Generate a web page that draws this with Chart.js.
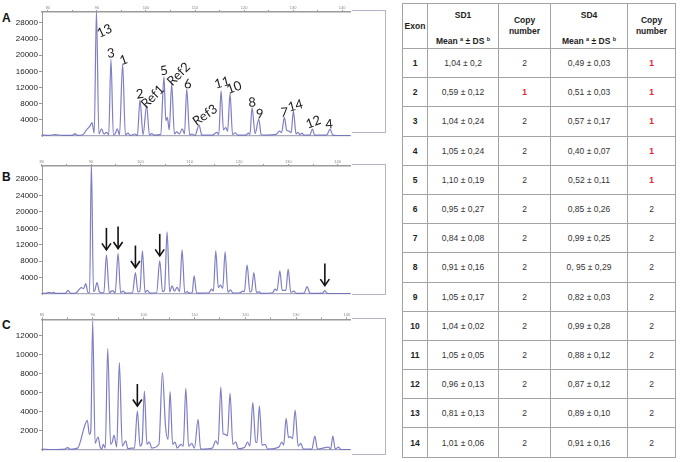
<!DOCTYPE html>
<html>
<head>
<meta charset="utf-8">
<script src="https://cdn.jsdelivr.net/npm/chart.js@4"></script>
<style>
  body { margin: 0; background: #fff; }
  #fig { position: relative; width: 686px; height: 462px; overflow: hidden; font-family: "Liberation Sans", Arial, sans-serif; }
  #fig canvas { position: absolute; left: 0; }
  .tag { position: absolute; left: 2px; font-weight: bold; font-size: 12px; color: #111; }
  .frame { position: absolute; border: 1px solid #b4b4c8; border-left: none; left: 352px; width: 33px; }
  table { position: absolute; left: 402px; top: 3px; border-collapse: collapse; table-layout: fixed; font-size: 8.5px; color: #333; }
  th, td { border: 1px solid #a4a4a4; text-align: center; padding: 0; }
  th { font-weight: bold; color: #222; }
  td.ex { font-weight: bold; color: #222; }
  .red { color: #e3261f; font-weight: bold; }
  sup { font-size: 5.5px; vertical-align: 3px; }
</style>
</head>
<body>
<div id="fig">
  <div class="tag" style="top:11px">A</div>
  <div class="tag" style="top:170px">B</div>
  <div class="tag" style="top:318px">C</div>
  <div class="frame" style="top:10px;height:121px"></div>
  <div class="frame" style="top:164px;height:129px"></div>
  <div class="frame" style="top:318px;height:135px"></div>
  <canvas id="cA"></canvas>
  <canvas id="cB"></canvas>
  <canvas id="cC"></canvas>
  <table id="tab"></table>
</div>
<script>
// ── Dados ─────────────────────────────────────────────────────────────────────
const xTickLabels = [80, 90, 100, 110, 120, 130, 140];
const xTickMarks  = [80, 85, 90, 95, 100, 105, 110, 115, 120, 125, 130, 135, 140];
const yTicksAB    = [4000, 8000, 12000, 16000, 20000, 24000, 28000];
const yTicksC     = [2000, 4000, 6000, 8000, 10000, 12000];

// Electroferogramas: [tamanho, intensidade]
const traceA = [
  [78.8,300],[80.2,150],[81.5,350],[83,150],[85.0,150],[85.5,600],[86.0,150],[87.1,300],[88.0,1700],[88.6,2500],[89.0,3300],[89.45,700],
  [89.9,31000],[90.4,500],[90.96,1800],[91.4,500],[91.98,900],[92.4,300],[92.86,19000],[93.35,300],[93.7,500],[94.14,1800],[94.6,300],
  [95.24,17800],[95.8,300],[96.33,700],[96.8,150],[97.76,500],[98.25,150],[98.78,8900],[99.4,300],[100.14,7500],[100.7,300],[101.16,600],
  [101.7,200],[103.0,400],[103.67,14650],[104.05,3800],[104.35,4600],[104.75,1500],[105.24,12850],[105.8,500],[106.27,1000],[106.8,500],
  [107.41,1800],[107.85,500],[108.31,11600],[108.9,300],[109.4,500],[110.0,150],[110.82,2700],[111.4,200],[113.5,200],[114.43,900],
  [114.85,400],[115.31,11200],[115.8,1500],[116.27,2100],[116.65,1200],[117.14,10500],[117.65,400],[118.2,800],[118.7,200],[120.3,200],
  [120.9,700],[121.2,400],[121.63,7050],[122.25,600],[123.0,4200],[123.5,300],[124.5,200],[126.5,400],[127.2,1200],[127.65,900],
  [128.22,4600],[128.7,1400],[129.2,1200],[129.6,800],[130.06,6250],[130.6,500],[131.0,900],[131.4,300],[131.8,700],[132.2,200],
  [133.4,200],[133.94,1700],[134.4,200],[136.8,200],[137.55,1700],[138.1,200],[139,100],[141.6,100]
];
const traceB = [
  [80.06,200],[80.8,150],[81.62,400],[82.0,200],[82.3,400],[82.8,150],[84.8,150],[85.34,900],[85.9,150],[87.0,300],[87.36,800],
  [88.05,1560],[88.5,1300],[88.92,2540],[89.39,300],[89.7,300],[90.07,32000],[90.5,600],[90.8,1000],[91.22,2780],[91.7,500],[92.1,300],
  [92.6,300],[93.12,9540],[93.7,300],[94.33,800],[94.9,300],[95.48,9860],[96.0,300],[96.49,700],[97.0,200],[98.4,300],[99.0,5230],
  [99.5,500],[99.9,700],[100.42,10500],[100.95,400],[101.44,900],[101.9,200],[103.3,300],[103.93,8070],[104.5,600],[104.9,900],
  [105.42,15150],[105.95,500],[106.43,1970],[106.9,700],[107.45,1600],[107.95,600],[108.46,10750],[109.0,300],[109.47,600],[109.9,200],
  [110.5,300],[110.9,4400],[111.4,200],[113.9,300],[114.42,1200],[114.8,700],[115.29,10500],[115.8,1600],[116.25,2140],[116.7,1400],
  [117.18,10300],[117.75,400],[118.27,1000],[118.8,200],[120.2,300],[120.71,700],[121.1,600],[121.64,7100],[122.2,500],[122.55,800],
  [123.0,5230],[123.55,400],[124.08,500],[124.6,150],[126.8,300],[127.33,1200],[127.7,800],[128.28,5640],[128.75,900],[129.09,900],
  [129.5,900],[129.96,6040],[130.5,400],[131.12,700],[131.6,150],[133.2,200],[133.81,1800],[134.4,150],[136.9,200],[137.4,830],
  [137.9,150],[139,100],[142.5,100]
];
const traceC = [
  [80,100],[82,50],[84.5,100],[85.05,250],[85.6,80],[87.0,200],[87.5,800],[88.2,2200],[88.92,3120],[89.32,1650],[89.6,2000],
  [89.97,13600],[90.45,700],[91.02,1370],[91.45,300],[91.75,100],[92.07,600],[92.45,200],[92.93,10670],[93.5,600],[93.8,800],
  [94.17,1550],[94.7,300],[95.22,9200],[95.8,400],[96.47,950],[96.9,150],[97.65,200],[98.2,200],[98.76,4100],[99.3,400],[99.7,800],
  [100.14,6200],[100.65,600],[101.12,840],[101.6,200],[103.0,600],[103.69,8140],[104.3,2500],[104.8,1120],[105.2,6140],[105.7,600],
  [106.18,840],[106.6,200],[107.36,600],[107.8,400],[108.29,6490],[108.85,400],[109.47,700],[110.0,200],[110.71,3230],[111.2,100],
  [113.5,200],[114.19,950],[114.65,600],[115.18,6630],[115.65,1700],[116.02,1650],[116.5,1500],[117.0,5960],[117.55,600],[118.13,840],
  [118.6,150],[119.9,300],[120.41,840],[120.9,400],[121.47,4980],[122.05,800],[122.3,800],[122.77,4630],[123.3,500],[123.9,600],
  [124.4,100],[126.6,300],[127.18,840],[127.55,500],[128.03,3330],[128.5,1300],[128.82,1400],[129.3,1200],[129.8,4210],[130.4,400],
  [130.92,700],[131.4,100],[133.1,100],[133.68,1470],[134.2,100],[136.36,300],[136.8,100],[137.22,1470],[137.7,100],[138.33,300],
  [138.8,50],[140.6,50]
];

// Picos identificados no painel A (nome → posição do pico)
const peakNamesA = ['13','3','1','2','Ref1','5','Ref2','6','Ref3','11','10','8','9','7','14','12','4'];
const peakPosA   = [89.9, 92.86, 95.24, 98.78, 100.14, 103.67, 105.24, 108.31, 110.82, 115.31, 117.14, 121.63, 123.0, 128.22, 130.06, 133.94, 137.55];

// Setas (picos com deleção)
const arrowsB = [93.12, 95.48, 99.0, 103.93, 137.4];
const arrowsC = [98.76];

// Tabela
const exons    = [1,2,3,4,5,6,7,8,9,10,11,12,13,14];
const sd1Mean  = ['1,04','0,59','1,04','1,05','1,10','0,95','0,84','0,91','1,05','1,04','1,05','0,96','0,81','1,01'];
const sd1Ds    = ['0,2','0,12','0,24','0,24','0,19','0,27','0,08','0,16','0,17','0,02','0,05','0,13','0,13','0,06'];
const sd1Copy  = [2,1,2,2,2,2,2,2,2,2,2,2,2,2];
const sd4Mean  = ['0,49','0,51','0,57','0,40','0,52','0,85','0,99','0, 95','0,82','0,99','0,88','0,87','0,89','0,91'];
const sd4Ds    = ['0,03','0,03','0,17','0,07','0,11','0,26','0,25','0,29','0,03','0,28','0,12','0,12','0,10','0,16'];
const sd4Copy  = [1,1,1,1,1,2,2,2,2,2,2,2,2,2];

// ── Estilo dos rótulos de pico: [dx, dy, rotação] ────────────────────────────
const LABEL_STYLE = [
  [8,20,-25],[0,-6,-8],[1,-4,-20],[0,-6,-8],[6,-9,-45],[0,-6,-10],[7,-10,-45],[1,-5,-8],[6,-10,-35],
  [1,-8,-15],[4,-6,-20],[0,-5,-5],[1,-5,-5],[0,-5,-5],[2,-5,-15],[1,-7,-20],[-1,-5,-5]
];

// ── Plugin: setas e rótulos ──────────────────────────────────────────────────
const peakMarks = {
  id: 'peakMarks',
  afterDatasetsDraw(chart, args, opts) {
    const { ctx, scales: { x, y } } = chart;
    const data = chart.data.datasets[0].data;
    const valAt = u => (data.find(p => p.x === u) || { y: 0 }).y;
    ctx.save();
    ctx.strokeStyle = '#111';
    ctx.lineWidth = 1.6;
    (opts.arrows || []).forEach(u => {
      const px = x.getPixelForValue(u);
      const tip = y.getPixelForValue(valAt(u)) - 5;
      ctx.beginPath(); ctx.moveTo(px, tip - 22); ctx.lineTo(px, tip); ctx.stroke();
      ctx.beginPath(); ctx.moveTo(px - 4.5, tip - 6.5); ctx.lineTo(px, tip); ctx.lineTo(px + 4.5, tip - 6.5); ctx.stroke();
    });
    (opts.names || []).forEach((txt, i) => {
      const u = opts.pos[i];
      const [dx, dy, rot] = LABEL_STYLE[i];
      const px = x.getPixelForValue(u) + dx;
      const py = Math.max(y.getPixelForValue(valAt(u)), chart.chartArea.top - 1) + dy;
      ctx.save();
      ctx.translate(px, py);
      ctx.rotate(rot * Math.PI / 180);
      ctx.font = '13px Lato, "Open Sans", sans-serif';
      ctx.fillStyle = '#1a1a1a';
      ctx.textAlign = 'center';
      ctx.textBaseline = 'middle';
      ctx.fillText(txt, 0, 0);
      ctx.restore();
    });
    ctx.restore();
  }
};

// ── Painéis ───────────────────────────────────────────────────────────────────
function painel(id, trace, o) {
  const cv = document.getElementById(id);
  cv.style.top = o.top + 'px';
  cv.width = 356; cv.height = o.h;
  cv.style.width = '356px'; cv.style.height = o.h + 'px';
  const xmin = trace[0][0], xmax = trace[trace.length - 1][0];
  new Chart(cv, {
    type: 'line',
    data: { datasets: [{
      data: trace.map(([x, y]) => ({ x, y })),
      borderColor: 'rgba(112,112,188,0.9)',
      borderWidth: 1.2,
      pointRadius: 0,
      cubicInterpolationMode: 'monotone',
    }] },
    options: {
      responsive: false,
      animation: false,
      events: [],
      layout: { padding: { top: 0, left: 0, right: 6, bottom: o.padB } },
      plugins: { legend: { display: false }, tooltip: { enabled: false },
                 peakMarks: { arrows: o.arrows, names: o.names, pos: o.pos } },
      scales: {
        x: {
          type: 'linear', position: 'top', min: xmin, max: xmax,
          afterFit: s => { s.height = o.axisH; },
          afterBuildTicks: s => { s.ticks = xTickMarks.map(v => ({ value: v })); },
          ticks: { maxRotation: 0, autoSkip: false, padding: 0, color: '#888',
                   font: { size: 4 }, callback: v => xTickLabels.includes(v) ? String(v) : '' },
          grid: { drawOnChartArea: false, drawTicks: true, tickLength: 2, color: '#999' },
          border: { color: '#9a9a9a', width: 1.5 },
        },
        x2: {
          type: 'linear', position: 'bottom', min: xmin, max: xmax,
          afterFit: s => { s.height = 0; },
          ticks: { display: false },
          grid: { display: false },
          border: { color: '#a8a8c0', width: 1.2 },
        },
        y: {
          min: 0, max: o.ymax,
          afterFit: s => { s.width = 42; },
          afterBuildTicks: s => { s.ticks = o.yTicks.map(v => ({ value: v })); },
          ticks: { autoSkip: false, padding: 1, color: '#222', font: { family: '"Liberation Sans", Arial', size: 8 },
                   callback: v => String(v) },
          grid: { drawOnChartArea: false, drawTicks: true, tickLength: 3, color: '#999' },
          border: { color: '#999', width: 1 },
        },
      },
    },
    plugins: [peakMarks],
  });
}

painel('cA', traceA, { top: 0,   h: 145, axisH: 12,   padB: 9,  ymax: 30700, yTicks: yTicksAB, names: peakNamesA, pos: peakPosA });
painel('cB', traceB, { top: 150, h: 150, axisH: 16,   padB: 6,  ymax: 31200, yTicks: yTicksAB, arrows: arrowsB });
painel('cC', traceC, { top: 305, h: 157, axisH: 14.3, padB: 12, ymax: 13750, yTicks: yTicksC,  arrows: arrowsC });

// ── Tabela ────────────────────────────────────────────────────────────────────
const tab = document.getElementById('tab');
const cor = n => n === 1 ? `<span class="red">${n}</span>` : n;
let html = '<colgroup><col style="width:25px"><col style="width:71px"><col style="width:52px"><col style="width:77px"><col style="width:48px"></colgroup>';
html += `<tr style="height:45px">
  <th>Exon</th>
  <th style="vertical-align:top"><div style="padding-top:6px">SD1</div><div style="margin-top:16px">Mean <sup>a</sup> ± DS <sup>b</sup></div></th>
  <th style="line-height:11px">Copy<br>number</th>
  <th style="vertical-align:top"><div style="padding-top:6px">SD4</div><div style="margin-top:16px">Mean <sup>a</sup> ± DS <sup>b</sup></div></th>
  <th style="line-height:11px">Copy<br>number</th></tr>`;
exons.forEach((e, i) => {
  html += `<tr style="height:29.2px"><td class="ex">${e}</td><td>${sd1Mean[i]} ± ${sd1Ds[i]}</td><td>${cor(sd1Copy[i])}</td>` +
          `<td>${sd4Mean[i]} ± ${sd4Ds[i]}</td><td>${cor(sd4Copy[i])}</td></tr>`;
});
tab.innerHTML = html;
</script>
</body>
</html>
